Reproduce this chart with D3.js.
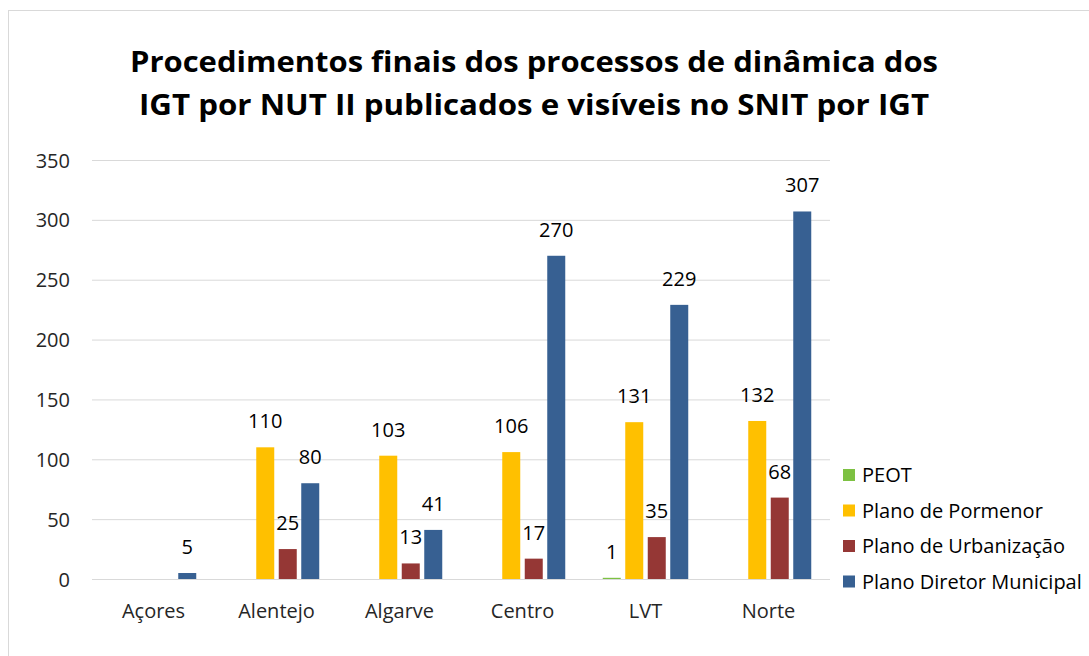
<!DOCTYPE html>
<html><head><meta charset="utf-8">
<script src="https://cdnjs.cloudflare.com/ajax/libs/d3/7.8.5/d3.min.js"></script>
<style>body{margin:0;background:#fff}svg{display:block}</style>
</head><body><svg id="c" width="1089" height="656"></svg>
<script>
const categories = ["Açores","Alentejo","Algarve","Centro","LVT","Norte"];
const seriesNames = ["PEOT","Plano de Pormenor","Plano de Urbanização","Plano Diretor Municipal"];
const peot = [null,null,null,null,1,null];
const pormenor = [null,110,103,106,131,132];
const urbanizacao = [null,25,13,17,35,68];
const pdm = [5,80,41,270,229,307];
const yTicks = [0,50,100,150,200,250,300,350];
const titleLines = ["Procedimentos finais dos processos de dinâmica dos","IGT por NUT II publicados e visíveis no SNIT por IGT"];
const colors = ["#7DC142","#FFC000","#953735","#376092"];

const seriesValues = [peot, pormenor, urbanizacao, pdm];
const svg = d3.select("#c");
const font = "'Open Sans', sans-serif";
const fs = 20;

svg.append("rect").attr("x",8.5).attr("y",10.5).attr("width",1100).attr("height",700)
  .attr("fill","#fff").attr("stroke","#d9d9d9").attr("stroke-width",1);

const x0 = d3.scaleBand().domain(categories).range([92,830]);
const x1 = d3.scaleBand().domain(seriesNames).range([-45,45]).paddingInner(0.2).paddingOuter(0.1);
const y = d3.scaleLinear().domain([0,350]).range([579,160]);

svg.append("g").selectAll("line").data(yTicks).join("line")
  .attr("x1",92).attr("x2",830).attr("y1",d=>y(d)+0.5).attr("y2",d=>y(d)+0.5)
  .attr("stroke","#d9d9d9").attr("stroke-width",1);

const yAxis = d3.axisLeft(y).tickValues(yTicks).tickSize(0).tickPadding(0);
const ya = svg.append("g").attr("transform","translate(70,0)").call(yAxis);
ya.select(".domain").remove();
ya.selectAll("text").attr("font-family",font).attr("font-size",fs).attr("fill","#262626").attr("dy","0.35em");

const xAxis = d3.axisBottom(x0).tickSize(0).tickPadding(0);
const xa = svg.append("g").attr("transform","translate(0,611)").call(xAxis);
xa.select(".domain").remove();
xa.selectAll("text").attr("font-family",font).attr("font-size",fs).attr("fill","#262626").attr("dy","0.35em");

const flat = [];
categories.forEach((c,i)=>seriesNames.forEach((s,j)=>{
  const v = seriesValues[j][i];
  if(v!==null) flat.push({c,s,v,j});
}));
const cx = d => x0(d.c)+x0.bandwidth()/2 + x1(d.s);
svg.append("g").selectAll("rect").data(flat).join("rect")
  .attr("x",cx).attr("width",x1.bandwidth())
  .attr("y",d=>y(d.v)).attr("height",d=>y(0)-y(d.v))
  .attr("fill",d=>colors[d.j]);

svg.append("g").selectAll("text").data(flat).join("text")
  .attr("x",d=>cx(d)+x1.bandwidth()/2).attr("y",d=>y(d.v)-19)
  .attr("text-anchor","middle").attr("font-family",font).attr("font-size",fs).attr("fill","#000")
  .text(d=>d.v);

svg.append("g").selectAll("text").data(titleLines).join("text")
  .attr("x",534).attr("y",(d,i)=>72+i*43).attr("text-anchor","middle")
  .attr("font-family",font).attr("font-weight","bold").attr("font-size",29).attr("fill","#000")
  .attr("textLength",(d,i)=>i===0?808:790).attr("lengthAdjust","spacingAndGlyphs")
  .text(d=>d);

const lg = svg.append("g").selectAll("g").data(seriesNames).join("g")
  .attr("transform",(d,i)=>`translate(843,${475+i*35.5})`);
lg.append("rect").attr("x",0).attr("y",-6).attr("width",12).attr("height",12).attr("fill",(d,i)=>colors[i]);
lg.append("text").attr("x",19).attr("y",0).attr("dy","0.35em").attr("font-family",font).attr("font-size",fs).attr("fill","#000").text(d=>d);
</script></body></html>
